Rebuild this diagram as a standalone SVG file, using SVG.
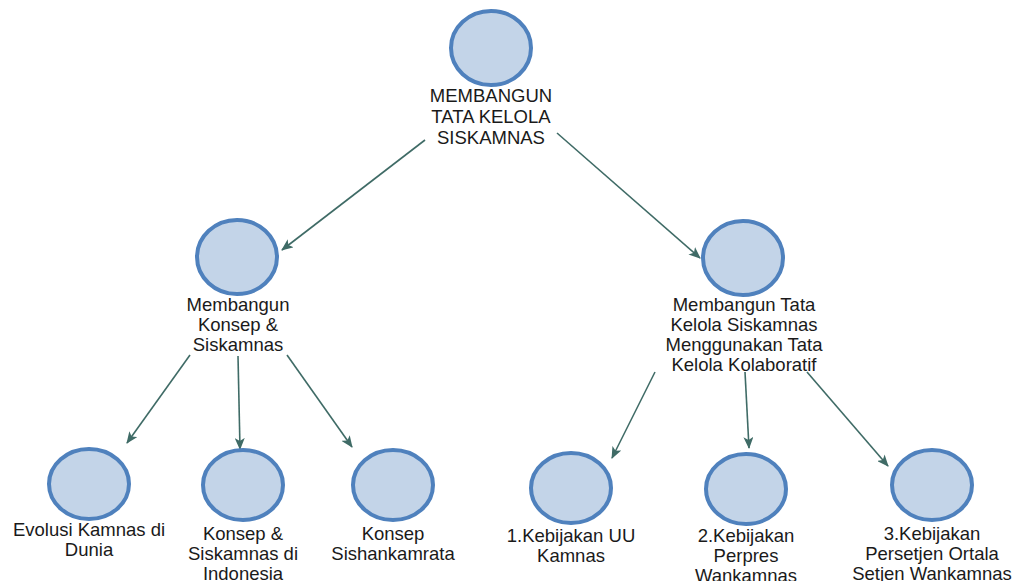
<svg xmlns="http://www.w3.org/2000/svg" width="1019" height="581" viewBox="0 0 1019 581">
<defs>
<marker id="arr" viewBox="0 0 12 10" refX="11" refY="5" markerWidth="12" markerHeight="10" markerUnits="userSpaceOnUse" orient="auto">
<path d="M0,0 L12,5 L0,10 L3,5 Z" fill="#3f6b66"/>
</marker>
<style>
.c{fill:#c3d4e8;stroke:#4f81bd;stroke-width:4}
.t{font-family:"Liberation Sans",Arial,sans-serif;font-size:18.5px;fill:#1a1a1a;text-anchor:middle}
.l{stroke:#3f6b66;stroke-width:1.6;fill:none;marker-end:url(#arr)}
</style>
</defs>
<rect width="1019" height="581" fill="#ffffff"/>
<g id="connectors">
<line class="l" x1="425" y1="140" x2="282" y2="250"/>
<line class="l" x1="557" y1="133" x2="700" y2="258"/>
<line class="l" x1="190" y1="355" x2="127" y2="443"/>
<line class="l" x1="238" y1="356" x2="240" y2="449"/>
<line class="l" x1="287" y1="355" x2="352" y2="447"/>
<line class="l" x1="655" y1="372" x2="612" y2="458"/>
<line class="l" x1="745" y1="372" x2="749" y2="448"/>
<line class="l" x1="807" y1="372" x2="888" y2="466"/>
</g>
<g id="n0">
<ellipse class="c" cx="491" cy="48" rx="40" ry="37"/>
<text class="t" x="491" y="102">MEMBANGUN</text>
<text class="t" x="491" y="123">TATA KELOLA</text>
<text class="t" x="491" y="144">SISKAMNAS</text>
</g>
<g id="n1">
<ellipse class="c" cx="237" cy="257" rx="40" ry="37"/>
<text class="t" x="238" y="311">Membangun</text>
<text class="t" x="238" y="331">Konsep &amp;</text>
<text class="t" x="238" y="351">Siskamnas</text>
</g>
<g id="n2">
<ellipse class="c" cx="743" cy="258" rx="40" ry="37"/>
<text class="t" x="744" y="311">Membangun Tata</text>
<text class="t" x="744" y="331">Kelola Siskamnas</text>
<text class="t" x="744" y="351">Menggunakan Tata</text>
<text class="t" x="744" y="371">Kelola Kolaboratif</text>
</g>
<g id="n3">
<ellipse class="c" cx="89" cy="484" rx="40" ry="35"/>
<text class="t" x="89" y="536">Evolusi Kamnas di</text>
<text class="t" x="89" y="556">Dunia</text>
</g>
<g id="n4">
<ellipse class="c" cx="243" cy="485" rx="40" ry="35"/>
<text class="t" x="243" y="540">Konsep &amp;</text>
<text class="t" x="243" y="560">Siskamnas di</text>
<text class="t" x="243" y="580">Indonesia</text>
</g>
<g id="n5">
<ellipse class="c" cx="393" cy="485" rx="40" ry="35"/>
<text class="t" x="393" y="540">Konsep</text>
<text class="t" x="393" y="560">Sishankamrata</text>
</g>
<g id="n6">
<ellipse class="c" cx="571" cy="488" rx="40" ry="35"/>
<text class="t" x="571" y="542">1.Kebijakan UU</text>
<text class="t" x="571" y="562">Kamnas</text>
</g>
<g id="n7">
<ellipse class="c" cx="746" cy="489" rx="40" ry="35"/>
<text class="t" x="746" y="542">2.Kebijakan</text>
<text class="t" x="746" y="562">Perpres</text>
<text class="t" x="746" y="582">Wankamnas</text>
</g>
<g id="n8">
<ellipse class="c" cx="932" cy="485" rx="40" ry="35"/>
<text class="t" x="932" y="540">3.Kebijakan</text>
<text class="t" x="932" y="560">Persetjen Ortala</text>
<text class="t" x="932" y="580">Setjen Wankamnas</text>
</g>
</svg>
